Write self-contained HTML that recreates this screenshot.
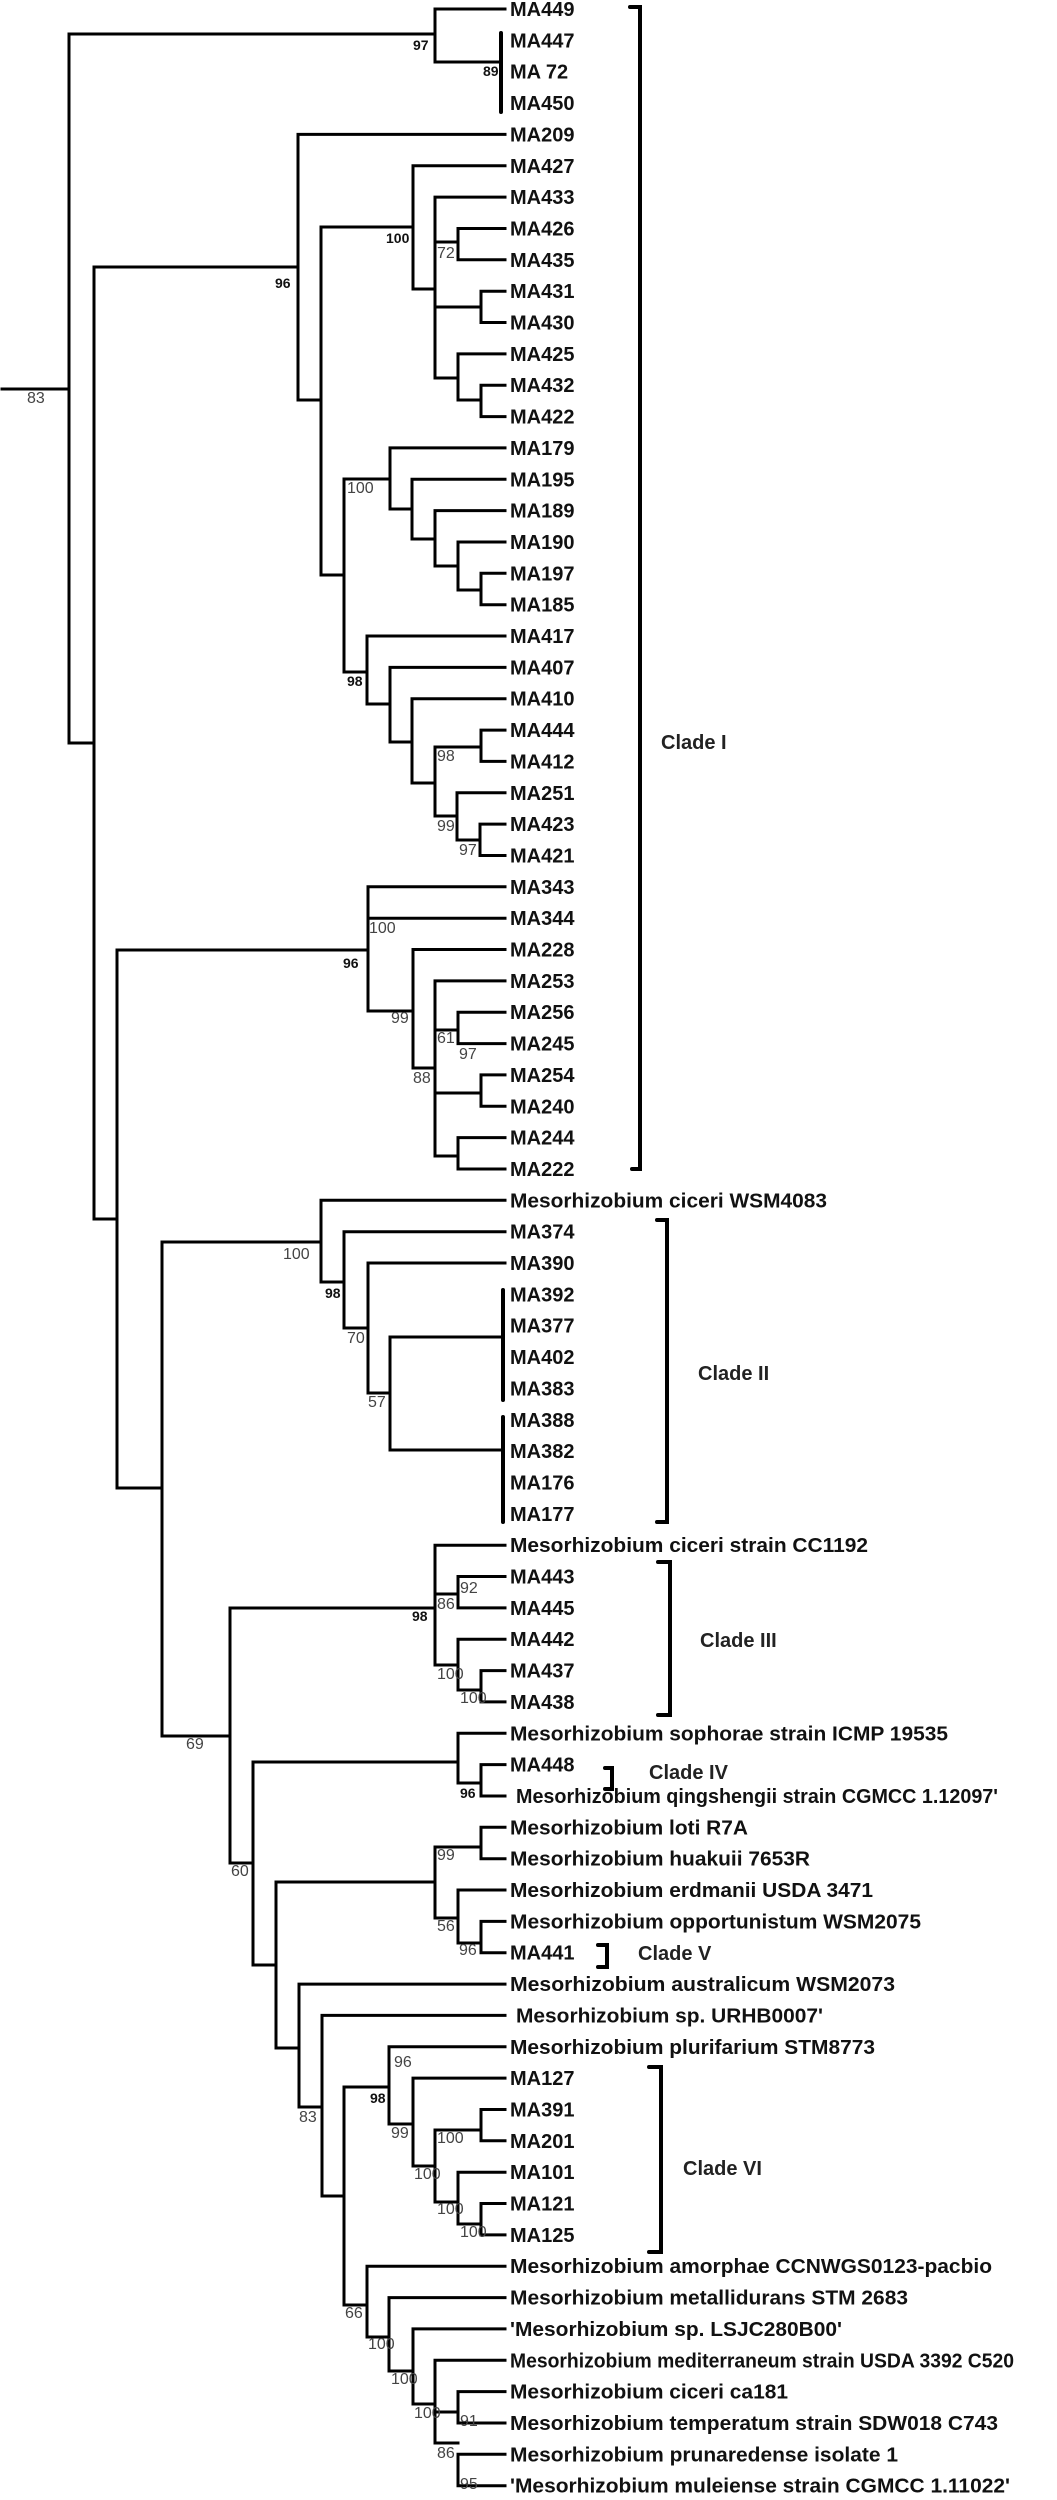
<!DOCTYPE html>
<html><head><meta charset="utf-8"><style>
html,body{margin:0;padding:0;background:#fff;}
svg{display:block;}
.l{font-family:"Liberation Sans",Arial,sans-serif;font-weight:bold;font-size:20px;fill:#111;}
.b{font-family:"Liberation Sans",Arial,sans-serif;font-size:16px;fill:#444;}
.bb{font-family:"Liberation Sans",Arial,sans-serif;font-size:14px;font-weight:bold;fill:#111;}
.c{font-family:"Liberation Sans",Arial,sans-serif;font-weight:bold;font-size:20px;fill:#222;}
</style></head><body>
<svg width="1057" height="2500" viewBox="0 0 1057 2500" xmlns="http://www.w3.org/2000/svg">
<g fill="none" stroke="#000" stroke-width="3" stroke-linecap="square">
<path d="M2 389H69 M69 34V743 M69 34H435 M435 9V62 M435 9H505 M435 62H500
M69 743H94 M94 267V1219 M94 267H298 M298 134.4V400 M298 134.4H505 M298 400H321 M321 227V575 M321 227H413 M413 165.8V289 M413 165.8H505 M413 289H435 M435 197.1V378 M435 197.1H505 M435 242H458 M458 228.5V259.8 M458 228.5H505 M458 259.8H505 M435 307H481 M481 291.2V322.5 M481 291.2H505 M481 322.5H505 M435 378H458 M458 353.9V400 M458 353.9H505 M458 400H481 M481 385.2V416.6 M481 385.2H505 M481 416.6H505
M321 575H344 M344 479V672 M344 479H390 M390 447.9V509 M390 447.9H505 M390 509H412 M412 479.3V539 M412 479.3H505 M412 539H435 M435 510.6V566 M435 510.6H505 M435 566H458 M458 542V590 M458 542H505 M458 590H481 M481 573.3V604.7 M481 573.3H505 M481 604.7H505
M344 672H367 M367 636V704 M367 636H505 M367 704H390 M390 667.4V742 M390 667.4H505 M390 742H412 M412 698.7V783 M412 698.7H505 M412 783H435 M435 747V816 M435 747H481 M481 730.1V761.4 M481 730.1H505 M481 761.4H505 M435 816H457 M457 792.8V840 M457 792.8H505 M457 840H480 M480 824.1V855.5 M480 824.1H505 M480 855.5H505
M94 1219H117 M117 950V1488 M117 950H368 M368 886.8V1011 M368 886.8H505 M368 918.2H505 M368 1011H413 M413 949.5V1068 M413 949.5H505 M413 1068H435 M435 980.9V1156 M435 980.9H505 M435 1030H458 M458 1012.2V1043.6 M458 1012.2H505 M458 1043.6H505 M435 1093H481 M481 1074.9V1106.3 M481 1074.9H505 M481 1106.3H505 M435 1156H458 M458 1137.6V1169 M458 1137.6H505 M458 1169H505
M117 1488H162 M162 1242V1736 M162 1242H321 M321 1200.3V1282 M321 1200.3H505 M321 1282H344 M344 1231.7V1328 M344 1231.7H505 M344 1328H368 M368 1263V1393 M368 1263H505 M368 1393H390 M390 1337V1450 M390 1337H503 M390 1450H503
M162 1736H230 M230 1608V1863 M230 1608H435 M435 1545.2V1665 M435 1545.2H505 M435 1594H458 M458 1576.5V1607.9 M458 1576.5H505 M458 1607.9H505 M435 1665H458 M458 1639.2V1690 M458 1639.2H505 M458 1690H481 M481 1670.6V1701.9 M481 1670.6H505 M481 1701.9H505
M230 1863H253 M253 1762V1965 M253 1762H458 M458 1733.3V1783 M458 1733.3H505 M458 1783H481 M481 1764.6V1796 M481 1764.6H505 M481 1796H505
M253 1965H276 M276 1882V2048 M276 1882H435 M435 1847V1918 M435 1847H481 M481 1827.3V1858.7 M481 1827.3H505 M481 1858.7H505 M435 1918H458 M458 1890V1943 M458 1890H505 M458 1943H481 M481 1921.4V1952.7 M481 1921.4H505 M481 1952.7H505
M276 2048H299 M299 1984.1V2107 M299 1984.1H505 M299 2107H322 M322 2015.4V2196 M322 2015.4H505 M322 2196H344 M344 2087V2305 M344 2087H389 M389 2046.8V2124 M389 2046.8H505 M389 2124H413 M413 2078.1V2166 M413 2078.1H505 M413 2166H435 M435 2130V2202 M435 2130H481 M481 2109.5V2140.8 M481 2109.5H505 M481 2140.8H505 M435 2202H458 M458 2172.2V2224 M458 2172.2H505 M458 2224H481 M481 2203.5V2234.9 M481 2203.5H505 M481 2234.9H505
M344 2305H367 M367 2266.2V2337 M367 2266.2H505 M367 2337H389 M389 2297.6V2371 M389 2297.6H505 M389 2371H413 M413 2328.9V2404 M413 2328.9H505 M413 2404H435 M435 2360.3V2443 M435 2360.3H505 M435 2412H458 M458 2391.6V2423 M458 2391.6H505 M458 2423H505 M435 2443H458 M458 2454.3V2485.7 M458 2454.3H505 M458 2485.7H505"/>
</g>
<g fill="none" stroke="#000" stroke-width="4" stroke-linecap="round">
<path d="M501 33V112 M503 1290V1400 M503 1417V1522"/>
<path d="M630 7H640V1169H632 M657 1220H667V1522H657 M658 1562H670V1715H658 M605 1768H612V1789H605 M598 1945H607V1967H598 M649 2067H661V2252H649"/>
</g>
<g class="l">
<text x="510" y="16">MA449</text>
<text x="510" y="47.4">MA447</text>
<text x="510" y="78.7">MA 72</text>
<text x="510" y="110">MA450</text>
<text x="510" y="141.4">MA209</text>
<text x="510" y="172.8">MA427</text>
<text x="510" y="204.1">MA433</text>
<text x="510" y="235.5">MA426</text>
<text x="510" y="266.8">MA435</text>
<text x="510" y="298.2">MA431</text>
<text x="510" y="329.5">MA430</text>
<text x="510" y="360.9">MA425</text>
<text x="510" y="392.2">MA432</text>
<text x="510" y="423.6">MA422</text>
<text x="510" y="454.9">MA179</text>
<text x="510" y="486.3">MA195</text>
<text x="510" y="517.6">MA189</text>
<text x="510" y="549">MA190</text>
<text x="510" y="580.3">MA197</text>
<text x="510" y="611.7">MA185</text>
<text x="510" y="643">MA417</text>
<text x="510" y="674.4">MA407</text>
<text x="510" y="705.7">MA410</text>
<text x="510" y="737.1">MA444</text>
<text x="510" y="768.4">MA412</text>
<text x="510" y="799.8">MA251</text>
<text x="510" y="831.1">MA423</text>
<text x="510" y="862.5">MA421</text>
<text x="510" y="893.8">MA343</text>
<text x="510" y="925.2">MA344</text>
<text x="510" y="956.5">MA228</text>
<text x="510" y="987.9">MA253</text>
<text x="510" y="1019.2">MA256</text>
<text x="510" y="1050.6">MA245</text>
<text x="510" y="1081.9">MA254</text>
<text x="510" y="1113.3">MA240</text>
<text x="510" y="1144.6">MA244</text>
<text x="510" y="1176">MA222</text>
<text x="510" y="1207.3" textLength="317" lengthAdjust="spacingAndGlyphs">Mesorhizobium ciceri WSM4083</text>
<text x="510" y="1238.7">MA374</text>
<text x="510" y="1270">MA390</text>
<text x="510" y="1301.4">MA392</text>
<text x="510" y="1332.7">MA377</text>
<text x="510" y="1364.1">MA402</text>
<text x="510" y="1395.4">MA383</text>
<text x="510" y="1426.8">MA388</text>
<text x="510" y="1458.1">MA382</text>
<text x="510" y="1489.5">MA176</text>
<text x="510" y="1520.8">MA177</text>
<text x="510" y="1552.2" textLength="358" lengthAdjust="spacingAndGlyphs">Mesorhizobium ciceri strain CC1192</text>
<text x="510" y="1583.5">MA443</text>
<text x="510" y="1614.9">MA445</text>
<text x="510" y="1646.2">MA442</text>
<text x="510" y="1677.6">MA437</text>
<text x="510" y="1708.9">MA438</text>
<text x="510" y="1740.3" textLength="438" lengthAdjust="spacingAndGlyphs">Mesorhizobium sophorae strain ICMP 19535</text>
<text x="510" y="1771.6">MA448</text>
<text x="516" y="1803" textLength="482" lengthAdjust="spacingAndGlyphs">Mesorhizobium qingshengii strain CGMCC 1.12097'</text>
<text x="510" y="1834.3" textLength="238" lengthAdjust="spacingAndGlyphs">Mesorhizobium loti R7A</text>
<text x="510" y="1865.7" textLength="300" lengthAdjust="spacingAndGlyphs">Mesorhizobium huakuii 7653R</text>
<text x="510" y="1897" textLength="363" lengthAdjust="spacingAndGlyphs">Mesorhizobium erdmanii USDA 3471</text>
<text x="510" y="1928.4" textLength="411" lengthAdjust="spacingAndGlyphs">Mesorhizobium opportunistum WSM2075</text>
<text x="510" y="1959.7">MA441</text>
<text x="510" y="1991.1" textLength="385" lengthAdjust="spacingAndGlyphs">Mesorhizobium australicum WSM2073</text>
<text x="516" y="2022.4" textLength="307" lengthAdjust="spacingAndGlyphs">Mesorhizobium sp. URHB0007'</text>
<text x="510" y="2053.8" textLength="365" lengthAdjust="spacingAndGlyphs">Mesorhizobium plurifarium STM8773</text>
<text x="510" y="2085.1">MA127</text>
<text x="510" y="2116.5">MA391</text>
<text x="510" y="2147.8">MA201</text>
<text x="510" y="2179.2">MA101</text>
<text x="510" y="2210.5">MA121</text>
<text x="510" y="2241.9">MA125</text>
<text x="510" y="2273.2" textLength="482" lengthAdjust="spacingAndGlyphs">Mesorhizobium amorphae CCNWGS0123-pacbio</text>
<text x="510" y="2304.6" textLength="398" lengthAdjust="spacingAndGlyphs">Mesorhizobium metallidurans STM 2683</text>
<text x="510" y="2335.9" textLength="332" lengthAdjust="spacingAndGlyphs">'Mesorhizobium sp. LSJC280B00'</text>
<text x="510" y="2367.3" textLength="504" lengthAdjust="spacingAndGlyphs">Mesorhizobium mediterraneum strain USDA 3392 C520</text>
<text x="510" y="2398.6" textLength="278" lengthAdjust="spacingAndGlyphs">Mesorhizobium ciceri ca181</text>
<text x="510" y="2430" textLength="488" lengthAdjust="spacingAndGlyphs">Mesorhizobium temperatum strain SDW018 C743</text>
<text x="510" y="2461.3" textLength="388" lengthAdjust="spacingAndGlyphs">Mesorhizobium prunaredense isolate 1</text>
<text x="510" y="2492.7" textLength="500" lengthAdjust="spacingAndGlyphs">'Mesorhizobium muleiense strain CGMCC 1.11022'</text>
</g>
<g class="c">
<text x="661" y="749">Clade I</text>
<text x="698" y="1380">Clade II</text>
<text x="700" y="1647">Clade III</text>
<text x="649" y="1779">Clade IV</text>
<text x="638" y="1960">Clade V</text>
<text x="683" y="2175">Clade VI</text>
</g>
<g class="bb">
<text x="413" y="50">97</text>
<text x="483" y="76">89</text>
<text x="386" y="243">100</text>
<text x="275" y="288">96</text>
<text x="347" y="686">98</text>
<text x="343" y="968">96</text>
<text x="325" y="1298">98</text>
<text x="412" y="1621">98</text>
<text x="460" y="1798">96</text>
<text x="370" y="2103">98</text>
</g>
<g class="b">
<text x="27" y="403">83</text>
<text x="437" y="258">72</text>
<text x="347" y="493">100</text>
<text x="437" y="761">98</text>
<text x="437" y="831">99</text>
<text x="459" y="855">97</text>
<text x="369" y="933">100</text>
<text x="391" y="1023">99</text>
<text x="437" y="1043">61</text>
<text x="459" y="1059">97</text>
<text x="413" y="1083">88</text>
<text x="283" y="1259">100</text>
<text x="347" y="1343">70</text>
<text x="368" y="1407">57</text>
<text x="460" y="1593">92</text>
<text x="437" y="1609">86</text>
<text x="437" y="1679">100</text>
<text x="460" y="1703">100</text>
<text x="186" y="1749">69</text>
<text x="437" y="1860">99</text>
<text x="231" y="1876">60</text>
<text x="437" y="1931">56</text>
<text x="459" y="1955">96</text>
<text x="394" y="2067">96</text>
<text x="299" y="2122">83</text>
<text x="391" y="2138">99</text>
<text x="437" y="2143">100</text>
<text x="414" y="2179">100</text>
<text x="437" y="2214">100</text>
<text x="460" y="2237">100</text>
<text x="345" y="2318">66</text>
<text x="368" y="2349">100</text>
<text x="391" y="2384">100</text>
<text x="414" y="2418">100</text>
<text x="460" y="2426">91</text>
<text x="437" y="2458">86</text>
<text x="460" y="2489">95</text>
</g>
</svg>
</body></html>
